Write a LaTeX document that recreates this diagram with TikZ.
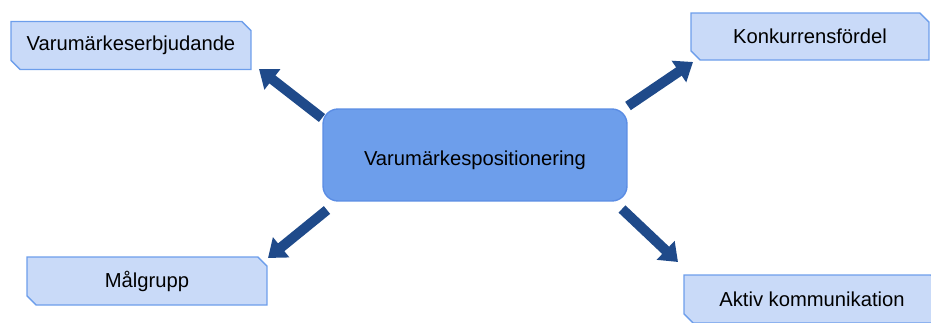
\documentclass[tikz,border=0pt]{standalone}
\usepackage{fontspec}
\setmainfont{Liberation Sans}
\usepackage{xcolor}
\usepackage{tikz}
\usetikzlibrary{shapes,arrows,positioning,calc,arrows.meta}

\definecolor{boxfill}{HTML}{C9DAF8}
\definecolor{boxline}{HTML}{6D9EEB}
\definecolor{midfill}{HTML}{6D9EEB}
\definecolor{midline}{HTML}{5B8DE4}
\definecolor{arrowblue}{HTML}{1F4A8A}

\tikzset{
    sidebox/.style={chamfered rectangle, chamfered rectangle corners={north east,south west},
        chamfered rectangle xsep=0.09cm, chamfered rectangle ysep=0.09cm,
        draw=boxline, fill=boxfill, line width=0.8pt, inner sep=0pt,
        minimum width=4.8cm, minimum height=0.96cm,
        font=\fontsize{11.5}{13.8}\selectfont},
    midbox/.style={rectangle, rounded corners=0.3cm, draw=midline, fill=midfill, line width=0.8pt,
        minimum width=6.08cm, minimum height=1.84cm,
        font=\fontsize{11.5}{13.8}\selectfont},
    blockarrow/.style={draw=arrowblue, line width=0.2cm,
        -{Triangle[width=0.5cm,length=0.34cm]}}
}

\begin{document}
\begin{tikzpicture}[x=0.02cm,y=-0.02cm]
    \useasboundingbox (0,0) rectangle (931,322);

    % centre
    \node[midbox, text height=0.45cm, text depth=0.05cm] (pos) at (475,155) {Varumärkespositionering};

    % the four parts
    \node[sidebox] (erbj) at (131,45.5) {Varumärkeserbjudande};
    \node[sidebox, minimum width=4.76cm, minimum height=0.94cm] (konk) at (810,36.5) {Konkurrensfördel};
    \node[sidebox] (malg) at (147,281) {Målgrupp};
    \node[sidebox, minimum width=5.12cm] (komm) at (812,299) {Aktiv kommunikation};

    % arrow ends
    \coordinate (erbjS) at (322,118);
    \coordinate (erbjT) at (259,69);
    \coordinate (konkS) at (628,106);
    \coordinate (konkT) at (693,62);
    \coordinate (malgS) at (327,210);
    \coordinate (malgT) at (268,258);
    \coordinate (kommS) at (622,209);
    \coordinate (kommT) at (678,262);

    \draw[blockarrow] (erbjS) -- (erbjT);
    \draw[blockarrow] (konkS) -- (konkT);
    \draw[blockarrow] (malgS) -- (malgT);
    \draw[blockarrow] (kommS) -- (kommT);
\end{tikzpicture}
\end{document}
